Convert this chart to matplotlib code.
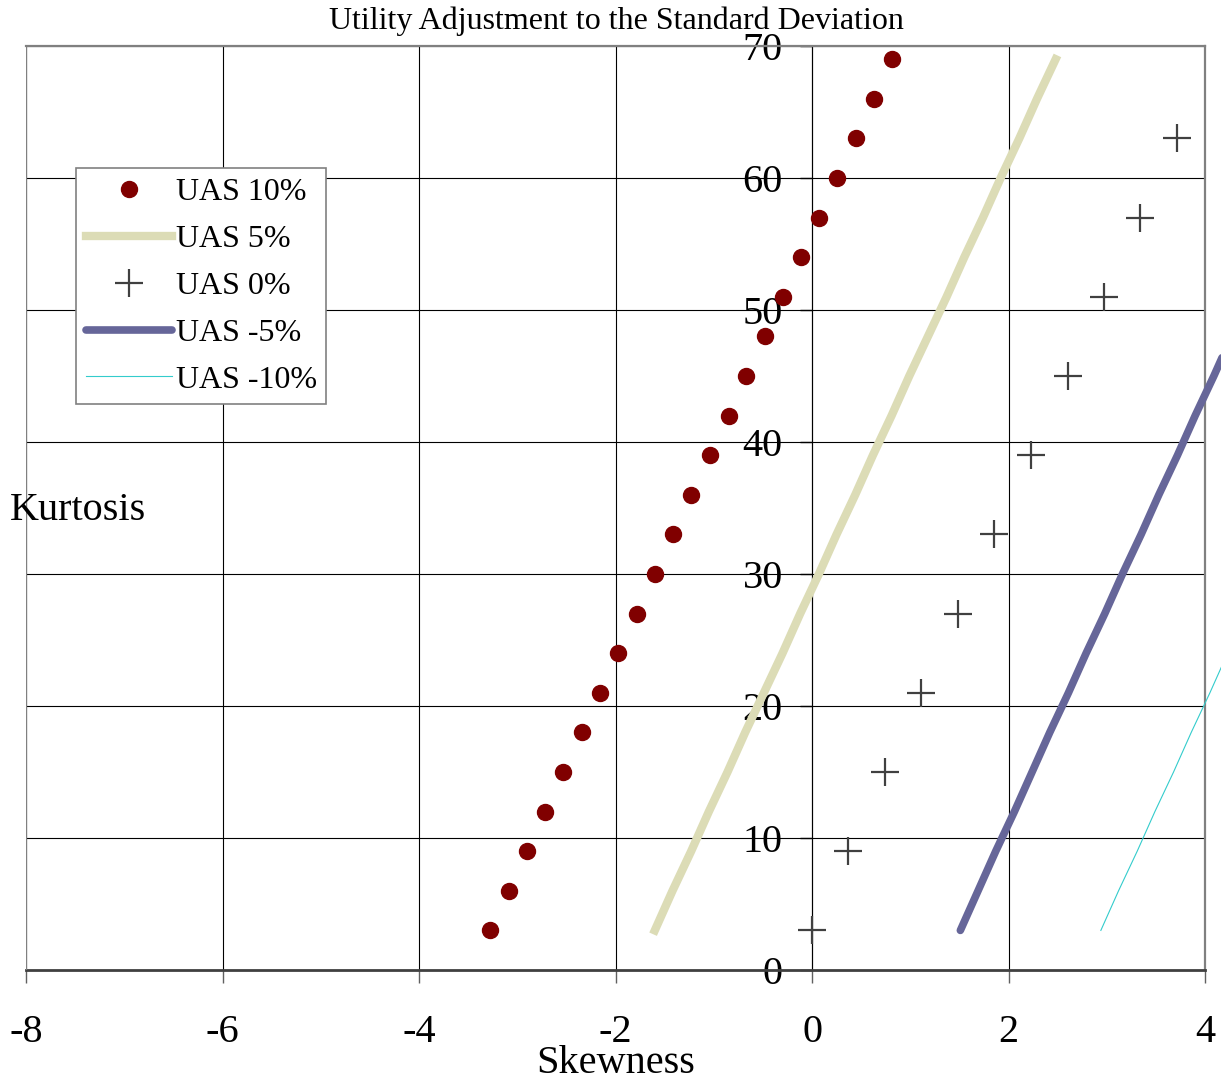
import numpy as np
import matplotlib
matplotlib.use("Agg")
import matplotlib.pyplot as plt

plt.rcParams['font.family'] = ['Liberation Serif', 'DejaVu Serif']
plt.rcParams['axes.unicode_minus'] = False

# kurtosis levels
kurt_3 = [3, 6, 9, 12, 15, 18, 21, 24, 27, 30, 33, 36, 39, 42, 45, 48, 51, 54, 57, 60, 63, 66, 69]
kurt_6 = [3, 9, 15, 21, 27, 33, 39, 45, 51, 57, 63]

# skewness
uas_10 = [-3.28, -3.08, -2.90, -2.72, -2.53, -2.34, -2.16, -1.97, -1.78, -1.60, -1.41, -1.23,
          -1.04, -0.84, -0.67, -0.48, -0.30, -0.11, 0.07, 0.25, 0.45, 0.63, 0.81]
uas_5 = [-1.60, -1.42, -1.23, -1.05, -0.86, -0.68, -0.49, -0.30, -0.12, 0.07, 0.25, 0.44,
         0.62, 0.81, 0.99, 1.18, 1.37, 1.55, 1.74, 1.92, 2.11, 2.29, 2.48]
uas_0 = [0.00, 0.37, 0.74, 1.11, 1.49, 1.85, 2.23, 2.61, 2.97, 3.34, 3.71]
uas_m5 = [1.51, 1.69, 1.87, 2.06, 2.24, 2.42, 2.61, 2.79, 2.98, 3.16, 3.35, 3.53,
          3.72, 3.90, 4.09, 4.27, 4.46, 4.64, 4.83, 5.01, 5.20, 5.38, 5.57]
uas_m10 = [2.94, 3.12, 3.31, 3.49, 3.68, 3.86, 4.05, 4.23, 4.42, 4.60, 4.79, 4.97,
           5.16, 5.34, 5.53, 5.71, 5.90, 6.08, 6.27, 6.45, 6.64, 6.82, 7.01]

W, H = 1221, 1082
fig = plt.figure(figsize=(W / 100, H / 100), dpi=100)
ax = fig.add_axes([26 / W, 1 - 970 / H, (1205 - 26) / W, (970 - 46) / H])

ax.set_xlim(-8, 4)
ax.set_ylim(0, 70)
ax.set_xticks(np.arange(-8, 5, 2))
ax.set_yticks(np.arange(0, 71, 10))
ax.grid(True, color='black', linewidth=0.8)
ax.set_axisbelow(True)

ax.plot(uas_10, kurt_3, 'o', color='#800000', markersize=11.5, label='UAS 10%', clip_on=False, zorder=5)
ax.plot(uas_5, kurt_3, '-', color='#dcdcb6', linewidth=6, label='UAS 5%', clip_on=False, zorder=4)
ax.plot(uas_0, kurt_6, '+', color='#404040', markersize=20, markeredgewidth=1.6, label='UAS 0%', clip_on=False, zorder=5)
ax.plot(uas_m5, kurt_3, '-', color='#666699', linewidth=5.5, solid_capstyle='round', label='UAS -5%', clip_on=False, zorder=4)
ax.plot(uas_m10, kurt_3, '-', color='#33cccc', linewidth=0.8, label='UAS -10%', clip_on=False, zorder=4)

# frame
for s in ['top', 'right']:
    ax.spines[s].set_color('#808080')
    ax.spines[s].set_linewidth(1.6)
ax.spines['bottom'].set_color('#404040')
ax.spines['bottom'].set_linewidth(2)
ax.spines['left'].set_position(('data', 0))
ax.spines['left'].set_color('black')
ax.spines['left'].set_linewidth(0.8)
ax.axvline(-8, color='#808080', linewidth=1.6, zorder=3)

ax.tick_params(axis='x', direction='out', length=9, width=1, color='#606060',
               labelsize=29, pad=23)
ax.tick_params(axis='y', direction='out', length=9, width=1, color='black',
               labelsize=29, pad=12)

fig.text(616 / W, 1 - 29 / H, 'Utility Adjustment to the Standard Deviation',
         ha='center', va='baseline', fontsize=23)
fig.text(10 / W, 1 - 510 / H, 'Kurtosis', ha='left', va='center', fontsize=29)
fig.text(616 / W, 1 - 1073 / H, 'Skewness', ha='center', va='baseline', fontsize=29)

leg = ax.legend(loc='upper left', bbox_to_anchor=(76 / W, 1 - 168 / H),
                bbox_transform=fig.transFigure, fontsize=23, frameon=True,
                fancybox=False, edgecolor='#808080', framealpha=1,
                borderaxespad=0, borderpad=0.3, handlelength=2.7,
                handletextpad=0.12, labelspacing=0.55)
leg.get_frame().set_linewidth(1.2)

fig.savefig('out.png', dpi=100)
